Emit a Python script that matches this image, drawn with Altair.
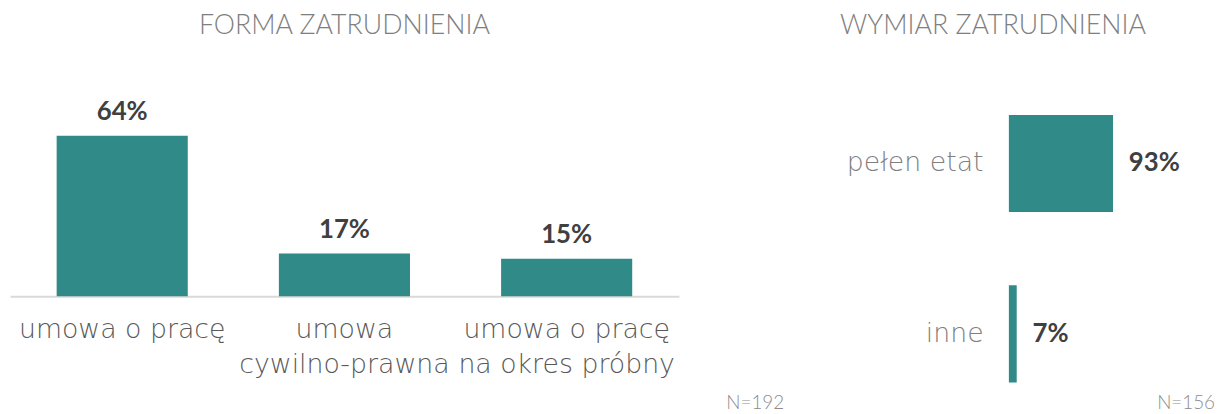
import altair as alt
import pandas as pd

# ---- data ----
forma_categories = ["umowa o pracę", "umowa\ncywilno-prawna", "umowa o pracę\nna okres próbny"]
forma_values = [64, 17, 15]
forma_labels = ["64%", "17%", "15%"]

wymiar_categories = ["pełen etat", "inne"]
wymiar_values = [93, 7]
wymiar_labels = ["93%", "7%"]

n_texts = ["N=192", "N=156"]

titles = ["FORMA ZATRUDNIENIA", "WYMIAR ZATRUDNIENIA"]

BAR = "#308a88"
VAL = "#404040"
CAT_FONT = "DejaVu Sans"
NUM_FONT = "Lato"

df1 = pd.DataFrame({"cat": forma_categories, "val": forma_values, "lab": forma_labels})
df2 = pd.DataFrame({"cat": wymiar_categories, "val": wymiar_values, "lab": wymiar_labels})

def title(t, dx=0):
    return alt.TitleParams(t, font=NUM_FONT, fontSize=27, fontWeight=300, color="#7f7f7f",
                           anchor="middle", frame="group", baseline="alphabetic", offset=20, dx=dx)

# ---- left: vertical bars ----
x1 = alt.X("cat:N", sort=forma_categories,
           scale=alt.Scale(paddingInner=0.41, paddingOuter=0.21),
           axis=alt.Axis(title=None, labelExpr="split(datum.label, '\\n')", labelAngle=0,
                         labelFontSize=27, labelFont=CAT_FONT, labelFontWeight=300,
                         labelColor="#595959", labelPadding=21, labelLineHeight=35,
                         labelLimit=0, labelOverlap=False,
                         ticks=False, tickSize=0, domainColor="#d9d9d9", domainWidth=2,
                         labelBaseline="top"))
y1 = alt.Y("val:Q", scale=alt.Scale(domain=[0, 86.2]), axis=None)

base1 = alt.Chart(df1).encode(x=x1, y=y1)
left = alt.layer(
    base1.mark_bar(color=BAR),
    base1.mark_text(baseline="alphabetic", dy=-16, font=NUM_FONT, fontWeight="bold",
                    fontSize=26, color=VAL).encode(text="lab:N"),
).properties(width=675, height=218, title=title(titles[0]))

# ---- right: horizontal bars ----
y2 = alt.Y("cat:N", sort=wymiar_categories,
           scale=alt.Scale(paddingInner=0.43, paddingOuter=0.16, align=0.636),
           axis=alt.Axis(title=None, ticks=False, tickSize=0, domain=False,
                         labelFontSize=27, labelFont=CAT_FONT, labelFontWeight=300,
                         labelLimit=0,
                         labelColor="#7f7f7f", labelPadding=26))
x2 = alt.X("val:Q", scale=alt.Scale(domain=[0, 159.3]), axis=None)

base2 = alt.Chart(df2).encode(x=x2, y=y2)
ndf_left = pd.DataFrame({"t": [n_texts[0]]})
ndf_right = pd.DataFrame({"t": [n_texts[1]]})
right = alt.layer(
    base2.mark_bar(color=BAR),
    base2.mark_text(align="left", baseline="middle", dx=16, font=NUM_FONT, fontWeight="bold",
                    fontSize=26, color=VAL).encode(text="lab:N"),
    alt.Chart(ndf_left).mark_text(font=NUM_FONT, fontWeight=300, fontSize=19, color="#8c8c8c",
                                  align="center", baseline="middle")
       .encode(text="t:N", x=alt.value(-256), y=alt.value(326)),
    alt.Chart(ndf_right).mark_text(font=NUM_FONT, fontWeight=300, fontSize=19, color="#8c8c8c",
                                   align="right", baseline="middle")
       .encode(text="t:N", x=alt.value(208), y=alt.value(326)),
).properties(width=180, height=325, title=title(titles[1], dx=-106))

chart = alt.hconcat(left, right, spacing=333, bounds="flush").properties(
    padding={"left": 2, "top": 2, "right": 0, "bottom": 0}
).configure_view(stroke=None)

chart.save("out.html", embed_options={"renderer": "svg", "actions": False})
